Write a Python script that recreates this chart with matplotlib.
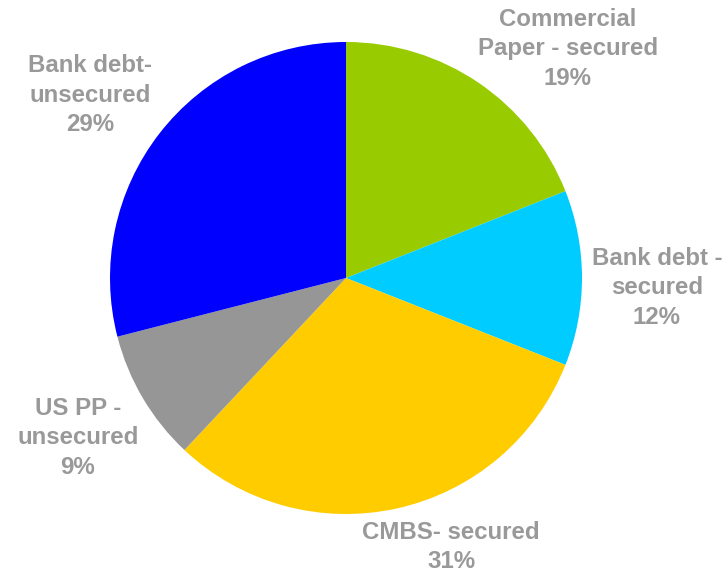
import matplotlib
matplotlib.use("Agg")
import matplotlib.pyplot as plt

# Funding mix by source
categories = [
    "Commercial\nPaper - secured",
    "Bank debt -\nsecured",
    "CMBS- secured",
    "US PP -\nunsecured",
    "Bank debt-\nunsecured",
]
shares = [19, 12, 31, 9, 29]
colors = ["#99CC00", "#00CCFF", "#FFCC00", "#969696", "#0000FF"]

# Label anchor points (pixel coordinates, origin top-left)
label_xy = [(568, 49), (657, 288), (451, 547), (78, 438), (90, 95)]

W, H = 725, 573
fig = plt.figure(figsize=(W / 100, H / 100), dpi=100)
ax = fig.add_axes([0, 0, 1, 1])

ax.pie(shares, colors=colors, startangle=90, counterclock=False,
       center=(346, H - 278), radius=236,
       wedgeprops=dict(linewidth=0), frame=True)
ax.set_xlim(0, W)
ax.set_ylim(0, H)
ax.set_aspect("equal")
ax.axis("off")

for name, val, (x, y) in zip(categories, shares, label_xy):
    ax.text(x, H - y, f"{name}\n{val}%", ha="center", va="center",
            fontsize=17.3, fontweight="bold", color="#999999",
            family="Liberation Sans", linespacing=1.34)

fig.savefig("out.png", dpi=100)
